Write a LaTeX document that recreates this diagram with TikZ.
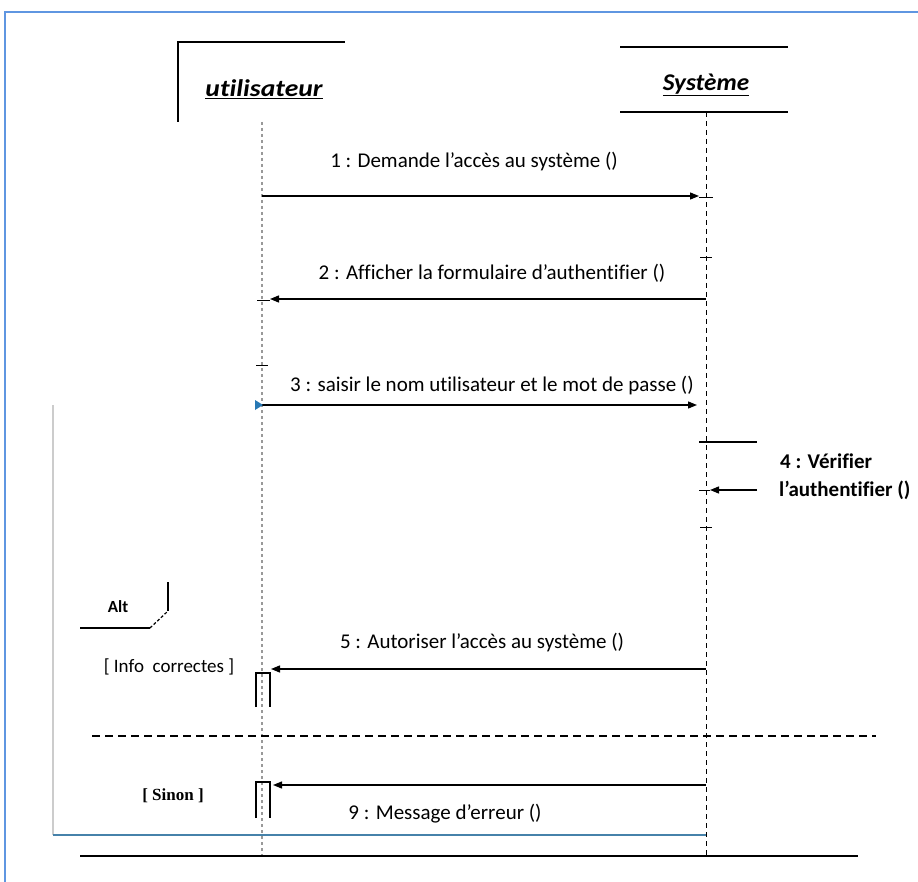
\documentclass[tikz,border=0pt]{standalone}
\usepackage{fontspec}
\setmainfont[Ligatures=NoCommon]{Carlito}
\newfontfamily\serifx{Liberation Serif}
\usetikzlibrary{arrows.meta}
\definecolor{frameblue}{RGB}{95,150,225}
\definecolor{lineblue}{RGB}{70,130,170}
\definecolor{tipblue}{RGB}{40,120,180}
\begin{document}
\begin{tikzpicture}[x=1pt,y=-1pt,
  msg/.style={draw=black,line width=1.3pt,-{Triangle[length=9pt,width=7pt]}},
  lbl/.style={font=\fontsize{21}{24}\selectfont,inner sep=0pt},
  actor/.style={font=\fontsize{24}{28}\selectfont\bfseries\itshape,inner sep=0pt},
  ulife/.style={draw=gray!80,line width=2pt,dash pattern=on 3pt off 3pt},
  slife/.style={draw=black,line width=1pt,dash pattern=on 5pt off 4pt},
  solid1/.style={draw=black,line width=1.3pt},
]
\useasboundingbox (0,0) rectangle (918,882);
\fill[white] (0,0) rectangle (918,882);
% outer frame
\coordinate (fTL) at (5,12);
\coordinate (fTR) at (918,12);
\coordinate (fBL) at (5,882);
\draw[draw=frameblue,line width=2pt] (fBL) -- (fTL) -- (fTR);
% grey inner frame and blue bottom line
\coordinate (gTop) at (53,405);
\coordinate (gBot) at (53,835);
\coordinate (bEnd) at (706,835);
\draw[draw=gray!40,line width=1.2pt] (gTop) -- (gBot);
\draw[draw=lineblue,line width=1.3pt] (gBot) -- (bEnd);

% actors
\coordinate (uL1) at (178,122);
\coordinate (uL2) at (178,42);
\coordinate (uL3) at (345,42);
\draw[solid1] (uL1) -- (uL2) -- (uL3);
\node[actor] (ut) at (264,89) {\scalebox{1.15}[1]{\underline{utilisateur}}};

\coordinate (sA1) at (620,47);
\coordinate (sA2) at (788,47);
\coordinate (sB1) at (620,112);
\coordinate (sB2) at (788,112);
\draw[solid1] (sA1) -- (sA2);
\draw[solid1] (sB1) -- (sB2);
\node[actor] (sy) at (706,85) {\scalebox{1.05}[1]{\underline{Système}}};

% lifelines
\coordinate (uTop) at (262,122);
\coordinate (uBot) at (262,856);
\coordinate (sTop) at (706,112);
\coordinate (sBot) at (706,856);
\draw[ulife] (uTop) -- (uBot);
\draw[slife] (sTop) -- (sBot);

% message 1
\coordinate (m1a) at (262,196);
\coordinate (m1b) at (699,196);
\draw[msg] (m1a) -- (m1b);
\coordinate (t1a) at (699,198);
\coordinate (t1b) at (713,198);
\draw[line width=1pt] (t1a) -- (t1b);
\node[lbl] (l1) at (474,162) {1 : Demande l’accès au système ()};

% message 2
\coordinate (t2a) at (700,258);
\coordinate (t2b) at (712,258);
\draw[line width=1pt] (t2a) -- (t2b);
\coordinate (m2a) at (706,299);
\coordinate (m2b) at (270,299);
\draw[msg] (m2a) -- (m2b);
\coordinate (t2c) at (257,301);
\coordinate (t2d) at (270,301);
\draw[line width=1pt] (t2c) -- (t2d);
\node[lbl] (l2) at (492,273) {2 : Afficher la formulaire d’authentifier ()};

% message 3
\coordinate (t3a) at (256,366);
\coordinate (t3b) at (268,366);
\draw[line width=1pt] (t3a) -- (t3b);
\coordinate (m3a) at (262,405);
\coordinate (m3b) at (697,405);
\draw[msg] (m3a) -- (m3b);
\fill[tipblue] (255,400) -- (263,405) -- (255,410) -- cycle;
\node[lbl] (l3) at (492,386) {3 : saisir le nom utilisateur et le mot de passe ()};

% message 4 (self)
\coordinate (m4a) at (699,442);
\coordinate (m4b) at (757,442);
\draw[line width=1.2pt] (m4a) -- (m4b);
\coordinate (m4c) at (757,490);
\coordinate (m4d) at (710,490);
\draw[msg] (m4c) -- (m4d);
\coordinate (t4a) at (699,490);
\draw[line width=1pt] (t4a) -- (m4d);
\node[lbl,anchor=west,font=\fontsize{21}{24}\selectfont\bfseries] (l4a) at (780,461) {4 : Vérifier};
\node[lbl,anchor=west,font=\fontsize{21}{24}\selectfont\bfseries] (l4b) at (779,490) {l’authentifier ()};
\coordinate (t5a) at (700,527);
\coordinate (t5b) at (712,527);
\draw[line width=1pt] (t5a) -- (t5b);

% alt fragment tag
\coordinate (a1) at (80,628);
\coordinate (a2) at (150,628);
\coordinate (a3) at (168,611);
\coordinate (a4) at (168,582);
\draw[line width=1.2pt] (a1) -- (a2);
\draw[line width=1.2pt,dash pattern=on 3pt off 2pt] (a2) -- (a3);
\draw[line width=1.2pt] (a3) -- (a4);
\node[lbl,font=\fontsize{17}{19}\selectfont\bfseries] (alt) at (118,607) {Alt};
\node[lbl,font=\fontsize{19}{21}\selectfont] (g1) at (169,667) {[ Info~ correctes ]};

% message 5
\coordinate (m5a) at (706,669);
\coordinate (m5b) at (271,669);
\draw[msg] (m5a) -- (m5b);
\node[lbl] (l5) at (482,643) {5 : Autoriser l’accès au système ()};
\coordinate (b5a) at (256,707);
\coordinate (b5b) at (256,673);
\coordinate (b5c) at (270,673);
\coordinate (b5d) at (270,707);
\draw[line width=1.3pt] (b5a) -- (b5b) -- (b5c) -- (b5d);

% separator
\coordinate (s1) at (92,736);
\coordinate (s2) at (876,736);
\draw[line width=1.2pt,dash pattern=on 8pt off 5pt] (s1) -- (s2);

% message 9
\node[lbl,font=\fontsize{17}{19}\selectfont\serifx\bfseries] (g2) at (173,796) {[ Sinon ]};
\coordinate (m9a) at (706,785);
\coordinate (m9b) at (273,785);
\draw[msg] (m9a) -- (m9b);
\coordinate (b9a) at (256,818);
\coordinate (b9b) at (256,782);
\coordinate (b9c) at (270,782);
\coordinate (b9d) at (270,818);
\draw[line width=1.3pt] (b9a) -- (b9b) -- (b9c) -- (b9d);
\node[lbl] (l9) at (445,814) {9 : Message d’erreur ()};

% bottom line
\coordinate (e1) at (80,856);
\coordinate (e2) at (858,856);
\draw[line width=1.3pt] (e1) -- (e2);
\end{tikzpicture}
\end{document}
